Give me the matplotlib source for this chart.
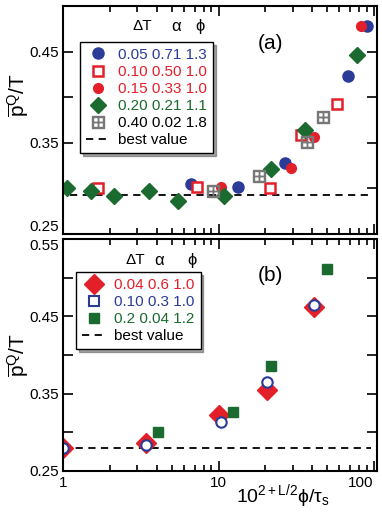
import matplotlib
matplotlib.use('Agg')
import matplotlib.pyplot as plt
import numpy as np
from matplotlib.ticker import NullFormatter, LogLocator
from matplotlib.lines import Line2D

plt.rcParams['font.family'] = ['Liberation Sans', 'DejaVu Sans']
plt.rcParams['mathtext.fontset'] = 'custom'
plt.rcParams['mathtext.rm'] = 'Liberation Sans'
plt.rcParams['mathtext.it'] = 'Liberation Sans'
plt.rcParams['mathtext.sf'] = 'Liberation Sans'

BLUE = '#2a3b98'
RED = '#e3202a'
GREEN = '#1b6a2f'
GRAY = '#777777'

# ---- panel (a) data ----
a_blue_x = [6.6, 13.3, 26.7, 68, 91]
a_blue_y = [0.305, 0.302, 0.328, 0.423, 0.478]
a_ropen_x = [1.68, 7.3, 21.3, 34.2, 58]
a_ropen_y = [0.300, 0.302, 0.300, 0.358, 0.392]
a_red_x = [10.3, 29.4, 41, 83]
a_red_y = [0.301, 0.322, 0.356, 0.478]
a_green_x = [1.05, 1.50, 2.13, 3.57, 5.44, 10.8, 21.8, 36.2, 78]
a_green_y = [0.300, 0.297, 0.292, 0.297, 0.286, 0.292, 0.321, 0.364, 0.446]
a_gray_x = [9.2, 18.2, 37.2, 47]
a_gray_y = [0.297, 0.314, 0.351, 0.378]
a_best = 0.293
a_labels = ['0.05 0.71 1.3', '0.10 0.50 1.0', '0.15 0.33 1.0',
            '0.20 0.21 1.1', '0.40 0.02 1.8', 'best value']

# ---- panel (b) data ----
b_red_x = [1.0, 3.4, 10.0, 20.5, 41.4]
b_red_y = [0.280, 0.286, 0.322, 0.355, 0.462]
b_bopen_x = [1.0, 3.4, 10.3, 20.5, 41.4]
b_bopen_y = [0.280, 0.283, 0.314, 0.365, 0.465]
b_green_x = [4.1, 12.4, 21.8, 50]
b_green_y = [0.301, 0.326, 0.386, 0.512]
b_best = 0.280
b_labels = ['0.04 0.6 1.0', '0.10 0.3 1.0', '0.2 0.04 1.2', 'best value']

fig = plt.figure(figsize=(3.82, 5.21), dpi=100)
ax1 = fig.add_axes([0.166, 0.551, 0.821, 0.4376])
ax2 = fig.add_axes([0.166, 0.096, 0.821, 0.445])


def style(ax, ymin, ymax, labeled):
    ax.set_xscale('log')
    ax.set_xlim(1, 105)
    ax.set_ylim(ymin, ymax)
    yt = np.round(np.arange(ymin, ymax + 0.001, 0.05), 2)
    ax.set_yticks(yt, ['%.2f' % v if round(v, 2) in labeled else '' for v in yt])
    ax.xaxis.set_major_locator(LogLocator(base=10, numticks=10))
    ax.xaxis.set_minor_locator(LogLocator(base=10, subs=np.arange(2, 10), numticks=10))
    ax.xaxis.set_minor_formatter(NullFormatter())
    ax.tick_params(which='both', direction='in', top=True, right=True,
                   labelsize=11, width=1.2)
    ax.tick_params(which='major', length=7)
    ax.tick_params(which='minor', length=4)
    for s in ax.spines.values():
        s.set_linewidth(1.5)


style(ax1, 0.25, 0.50, [0.25, 0.35, 0.45])
style(ax2, 0.25, 0.55, [0.25, 0.35, 0.45, 0.55])
ax1.xaxis.set_major_formatter(NullFormatter())
ax2.set_xticks([1, 10, 100], ['1', '10', '100'])
ax2.get_xticklabels()[-1].set_ha('right')
ax1.get_yticklabels()[0].set_va('bottom')
ax2.get_yticklabels()[-1].set_va('top')

# panel (a)
ax1.axhline(a_best, xmin=0.02, xmax=0.98, color='black', ls=(0, (4, 3)), lw=1.3)
ax1.plot(a_blue_x, a_blue_y, 'o', ms=8, color=BLUE, mec=BLUE)
ax1.plot(a_ropen_x, a_ropen_y, 's', ms=7, mfc='white', mec=RED, mew=1.8)
ax1.plot(a_red_x, a_red_y, 'o', ms=7, color=RED)
ax1.plot(a_green_x, a_green_y, 'D', ms=8, color=GREEN)
ax1.plot(a_gray_x, a_gray_y, ls='none', marker=r'$\boxplus$', ms=9, color=GRAY)

ha = [Line2D([], [], ls='none', marker='o', ms=8, color=BLUE),
      Line2D([], [], ls='none', marker='s', ms=7, mfc='white', mec=RED, mew=1.8),
      Line2D([], [], ls='none', marker='o', ms=7, color=RED),
      Line2D([], [], ls='none', marker='D', ms=8, color=GREEN),
      Line2D([], [], ls='none', marker=r'$\boxplus$', ms=9, color=GRAY),
      Line2D([], [], color='black', ls=(0, (4, 3)), lw=1.3)]
leg1 = ax1.legend(ha, a_labels, loc='upper left', bbox_to_anchor=(0.053, 0.843),
                  borderaxespad=0, fontsize=11, handlelength=1.6, handletextpad=0.5,
                  labelspacing=0.2, borderpad=0.4, fancybox=False, shadow=True,
                  edgecolor='black', framealpha=1,
                  labelcolor=[BLUE, RED, RED, GREEN, 'black', 'black'])
leg1.get_frame().set_linewidth(1.0)
ax1.text(0.25, 0.91, 'ΔT', transform=ax1.transAxes, ha='center', va='center', fontsize=11)
ax1.text(0.362, 0.91, r'$\alpha$', transform=ax1.transAxes, ha='center', va='center', fontsize=12)
ax1.text(0.435, 0.91, r'$\phi$', transform=ax1.transAxes, ha='center', va='center', fontsize=12)
ax1.text(0.66, 0.835, '(a)', transform=ax1.transAxes, ha='center', va='center', fontsize=15)
ax1.set_ylabel(r'$\overline{p}^{Q}/T$', fontsize=15)
ax1.yaxis.set_label_coords(-0.1, 0.61)

# panel (b)
ax2.axhline(b_best, xmin=0.0, xmax=0.98, color='black', ls=(0, (4, 3)), lw=1.3)
ax2.plot(b_red_x, b_red_y, 'D', ms=10, color=RED)
ax2.plot(b_bopen_x, b_bopen_y, 'o', ms=7.5, mfc='white', mec=BLUE, mew=1.5)
ax2.plot(b_green_x, b_green_y, 's', ms=6.5, color=GREEN)

hb = [Line2D([], [], ls='none', marker='D', ms=10, color=RED),
      Line2D([], [], ls='none', marker='s', ms=6.5, mfc='white', mec=BLUE, mew=1.5),
      Line2D([], [], ls='none', marker='s', ms=6.5, color=GREEN),
      Line2D([], [], color='black', ls=(0, (4, 3)), lw=1.3)]
leg2 = ax2.legend(hb, b_labels, loc='upper left', bbox_to_anchor=(0.04, 0.858),
                  borderaxespad=0, fontsize=11, handlelength=1.6, handletextpad=0.5,
                  labelspacing=0.2, borderpad=0.4, fancybox=False, shadow=True,
                  edgecolor='black', framealpha=1,
                  labelcolor=[RED, BLUE, GREEN, 'black'])
leg2.get_frame().set_linewidth(1.0)
ax2.text(0.228, 0.91, 'ΔT', transform=ax2.transAxes, ha='center', va='center', fontsize=11)
ax2.text(0.308, 0.91, r'$\alpha$', transform=ax2.transAxes, ha='center', va='center', fontsize=12)
ax2.text(0.41, 0.91, r'$\phi$', transform=ax2.transAxes, ha='center', va='center', fontsize=12)
ax2.text(0.66, 0.845, '(b)', transform=ax2.transAxes, ha='center', va='center', fontsize=15)
ax2.set_ylabel(r'$\overline{p}^{Q}/T$', fontsize=15)
ax2.yaxis.set_label_coords(-0.1, 0.5)
ax2.set_xlabel(r'$10^{2+L/2}\phi/\tau_s$', fontsize=14)
ax2.xaxis.set_label_coords(0.70, -0.05)

fig.savefig('out.png', dpi=100)
